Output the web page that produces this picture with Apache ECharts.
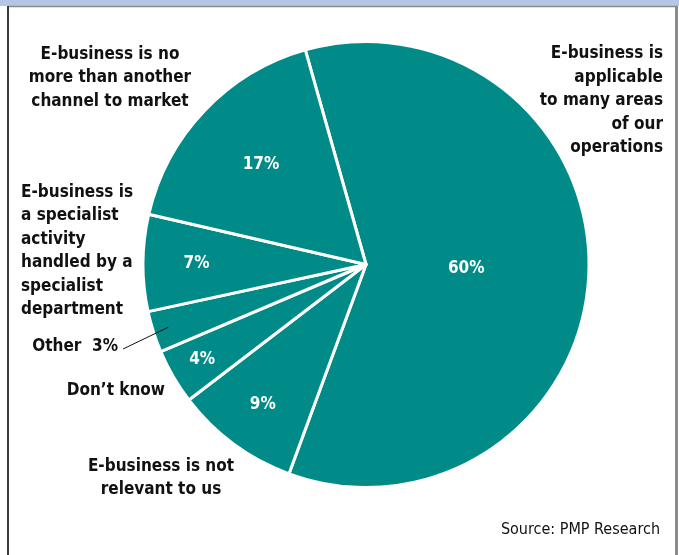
<!DOCTYPE html>
<html>
<head>
<meta charset="utf-8">
<style>
  html, body { margin: 0; padding: 0; background: #fff; }
  #chart { width: 679px; height: 555px; }
</style>
<script src="https://cdn.jsdelivr.net/npm/echarts@6/dist/echarts.min.js"></script>
</head>
<body>
<div id="chart"></div>
<script>
// Survey answers, listed clockwise starting from the large slice
const categories = [
  'E-business is\napplicable\nto many areas\nof our\noperations',
  'E-business is not\nrelevant to us',
  'Don\u2019t know',
  'Other',
  'E-business is\na specialist\nactivity\nhandled by a\nspecialist\ndepartment',
  'E-business is no\nmore than another\nchannel to market'
];
const shares = [60, 9, 4, 3, 7, 17];
const sourceNote = 'Source: PMP Research';

// ---- layout / styling ----
const FONT = "'Liberation Sans Narrow', 'DejaVu Sans Condensed', 'Arial Narrow', sans-serif";
const TEAL = '#008b89';
const CENTER = [366, 264.5];
const RADIUS = 223;
const START_ANGLE = 105.8;             // degrees, ECharts convention (counter-clockwise from 3 o'clock)
// radial placement of the percentage labels, as a fraction of the radius (null = no inner label)
const pctRadius = [0.45, 0.78, 0.85, null, 0.76, 0.65];
// anchor and alignment of the answer labels
const nameAnchors = [
  { x: 663, y: 101, align: 'right' },
  { x: 161, y: 478, align: 'center' },
  { x: 165, y: 391, align: 'right' },
  { x: 118, y: 347, align: 'right' },
  { x: 21,  y: 251, align: 'left' },
  { x: 110, y: 78,  align: 'center' }
];
const OTHER_LINE_END = [123, 349];

const total = shares.reduce((a, b) => a + b, 0);
// mid angle of each slice in radians, measured the canvas way (clockwise from 3 o'clock)
const midAngles = [];
(function () {
  let acc = -START_ANGLE;
  shares.forEach(v => {
    const span = v / total * 360;
    midAngles.push((acc + span / 2) * Math.PI / 180);
    acc += span;
  });
})();
function polar(i, frac) {
  const a = midAngles[i];
  return [CENTER[0] + Math.cos(a) * RADIUS * frac, CENTER[1] + Math.sin(a) * RADIUS * frac];
}

const chart = echarts.init(document.getElementById('chart'), null, { renderer: 'canvas' });

const sectorData = shares.map((v, i) => ({
  name: categories[i],
  value: v,
  label: { show: pctRadius[i] != null }
}));

const nameData = shares.map((v, i) => ({
  name: categories[i],
  value: v,
  labelLine: { show: i === 3 }
}));

chart.setOption({
  animation: false,
  backgroundColor: '#fff',
  graphic: [
    { type: 'rect', shape: { x: 0, y: 0, width: 679, height: 6 }, style: { fill: '#b4c5e5' }, silent: true },
    { type: 'line', shape: { x1: 8, y1: 6.5, x2: 677, y2: 6.5 }, style: { stroke: '#8a8a8a', lineWidth: 1.5 }, silent: true },
    { type: 'line', shape: { x1: 8, y1: 6, x2: 8, y2: 555 }, style: { stroke: '#3a3a3a', lineWidth: 2 }, silent: true },
    { type: 'line', shape: { x1: 676.5, y1: 6, x2: 676.5, y2: 555 }, style: { stroke: '#8c8c8c', lineWidth: 3 }, silent: true },
    {
      type: 'text', left: 'auto', right: 19, top: 522, silent: true,
      style: { text: sourceNote, font: "16px " + FONT, fill: '#111', textAlign: 'right' }
    }
  ],
  series: [
    {
      type: 'pie',
      name: 'slices',
      z: 2,
      center: CENTER,
      radius: [0, RADIUS],
      startAngle: START_ANGLE,
      clockwise: true,
      avoidLabelOverlap: false,
      silent: true,
      emphasis: { disabled: true },
      itemStyle: { color: TEAL, borderColor: '#fff', borderWidth: 3 },
      label: {
        position: 'inside',
        formatter: p => p.value + '%',
        color: '#fff',
        fontFamily: FONT,
        fontWeight: 'bold',
        fontSize: 17
      },
      labelLine: { show: false },
      labelLayout: p => {
        const i = p.dataIndex;
        if (pctRadius[i] == null) return {};
        const pt = polar(i, pctRadius[i]);
        return { x: pt[0], y: pt[1], align: 'center', verticalAlign: 'middle' };
      },
      data: sectorData
    },
    {
      type: 'pie',
      name: 'answers',
      z: 5,
      center: CENTER,
      radius: [0, RADIUS],
      startAngle: START_ANGLE,
      clockwise: true,
      avoidLabelOverlap: false,
      silent: true,
      emphasis: { disabled: true },
      itemStyle: { color: 'rgba(0,0,0,0)', borderWidth: 0 },
      label: {
        position: 'outside',
        formatter: p => p.dataIndex === 3 ? p.name + '  ' + p.value + '%' : p.name,
        color: '#111',
        fontFamily: FONT,
        fontWeight: 'bold',
        fontSize: 17,
        lineHeight: 23.5
      },
      labelLine: { show: false, lineStyle: { color: '#111', width: 1 } },
      labelLayout: p => {
        const i = p.dataIndex;
        const a = nameAnchors[i];
        const out = { x: a.x, y: a.y, align: a.align, verticalAlign: 'middle' };
        if (i === 3) {
          out.labelLinePoints = [polar(i, 0.93), OTHER_LINE_END, OTHER_LINE_END];
        }
        return out;
      },
      data: nameData
    }
  ]
});
</script>
</body>
</html>
